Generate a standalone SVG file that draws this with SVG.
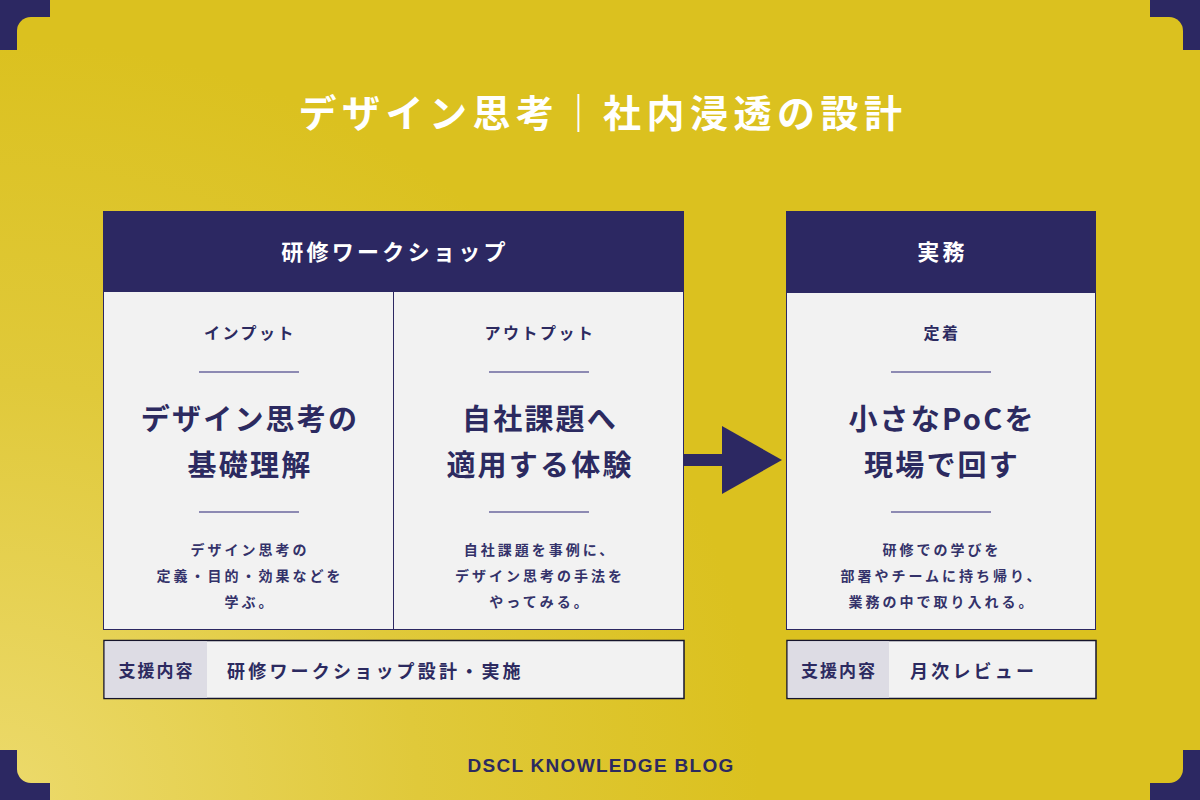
<svg xmlns="http://www.w3.org/2000/svg" width="1200" height="800" viewBox="0 0 1200 800">
<defs>
<radialGradient id="bgGrad" gradientUnits="userSpaceOnUse" cx="0" cy="800" r="760">
<stop offset="0" stop-color="#ecda6c"/>
<stop offset="0.55" stop-color="#e0c93a"/>
<stop offset="1" stop-color="#dbc11f"/>
</radialGradient>
<style>
.jp{font-family:"Noto Sans CJK JP","Noto Sans",sans-serif;}
.navyfill{fill:#2c2862;}
.card{fill:#f2f2f2;stroke:#2c2862;stroke-width:1;}
.rule{stroke:#8d8ab3;stroke-width:2;}
.hdr{font-size:22px;font-weight:700;fill:#ffffff;letter-spacing:3.3px;text-anchor:middle;}
.lab{font-size:16px;font-weight:700;fill:#2c2a60;letter-spacing:2.5px;text-anchor:middle;}
.big{font-size:29px;font-weight:700;fill:#2c2a60;letter-spacing:2.2px;text-anchor:middle;}
.desc{font-size:14px;font-weight:700;fill:#34326a;letter-spacing:3px;text-anchor:middle;}
.band{fill:#f2f2f2;stroke:#16152c;stroke-width:1.5;}
.bandlab{fill:#dddce4;}
.sl{font-size:17px;font-weight:700;fill:#2c2a60;letter-spacing:2px;text-anchor:middle;}
.sv{font-size:18px;font-weight:700;fill:#2c2a60;letter-spacing:3.2px;}
</style>
</defs>

<g id="background">
<rect x="0" y="0" width="1200" height="800" fill="url(#bgGrad)"/>
<rect class="navyfill" x="0" y="0" width="50" height="50"/>
<rect class="navyfill" x="1150" y="0" width="50" height="50"/>
<rect class="navyfill" x="0" y="750" width="50" height="50"/>
<rect class="navyfill" x="1150" y="750" width="50" height="50"/>
<rect x="17" y="17" width="1166" height="766" rx="14" ry="14" fill="url(#bgGrad)"/>
</g>

<g id="title">
<text class="jp" x="603" y="127" font-size="38" font-weight="700" fill="#ffffff" letter-spacing="5.5" text-anchor="middle">デザイン思考｜社内浸透の設計</text>
</g>

<g id="node-workshop">
<rect class="card" x="103.5" y="211.5" width="580" height="418"/>
<rect class="navyfill" x="103" y="211" width="581" height="81"/>
<text class="jp hdr" x="395" y="260">研修ワークショップ</text>
<line x1="393.5" y1="292" x2="393.5" y2="630" stroke="#2c2862" stroke-width="1"/>
<g id="node-input">
<text class="jp lab" x="250" y="339">インプット</text>
<line class="rule" x1="199" y1="372" x2="299" y2="372"/>
<text class="jp big" x="250" y="430">デザイン思考の</text>
<text class="jp big" x="250" y="476">基礎理解</text>
<line class="rule" x1="199" y1="512" x2="299" y2="512"/>
<text class="jp desc" x="250" y="555">デザイン思考の</text>
<text class="jp desc" x="250" y="581">定義・目的・効果などを</text>
<text class="jp desc" x="250" y="607">学ぶ。</text>
</g>
<g id="node-output">
<text class="jp lab" x="540" y="339">アウトプット</text>
<line class="rule" x1="489" y1="372" x2="589" y2="372"/>
<text class="jp big" x="540" y="430">自社課題へ</text>
<text class="jp big" x="540" y="476">適用する体験</text>
<line class="rule" x1="489" y1="512" x2="589" y2="512"/>
<text class="jp desc" x="540" y="555">自社課題を事例に、</text>
<text class="jp desc" x="540" y="581">デザイン思考の手法を</text>
<text class="jp desc" x="540" y="607">やってみる。</text>
</g>
</g>

<g id="node-support-workshop">
<rect class="band" x="104" y="640.5" width="580" height="58"/>
<rect class="bandlab" x="104.75" y="641.25" width="102.25" height="56.5"/>
<text class="jp sl" x="156.5" y="677">支援内容</text>
<text class="jp sv" x="227" y="678">研修ワークショップ設計・実施</text>
</g>

<g id="node-jitsumu">
<rect class="card" x="786.5" y="211.5" width="309" height="418"/>
<rect class="navyfill" x="786" y="211" width="310" height="82"/>
<text class="jp hdr" x="942.5" y="260">実務</text>
<text class="jp lab" x="942" y="339">定着</text>
<line class="rule" x1="891" y1="372" x2="991" y2="372"/>
<text class="jp big" x="942" y="430">小さなPoCを</text>
<text class="jp big" x="942" y="476">現場で回す</text>
<line class="rule" x1="891" y1="512" x2="991" y2="512"/>
<text class="jp desc" x="942" y="555">研修での学びを</text>
<text class="jp desc" x="942" y="581">部署やチームに持ち帰り、</text>
<text class="jp desc" x="942" y="607">業務の中で取り入れる。</text>
</g>

<g id="node-support-jitsumu">
<rect class="band" x="787" y="640.5" width="309" height="58"/>
<rect class="bandlab" x="787.75" y="641.25" width="101.25" height="56.5"/>
<text class="jp sl" x="839" y="677">支援内容</text>
<text class="jp sv" x="910" y="678">月次レビュー</text>
</g>

<g id="connectors">
<rect class="navyfill" x="684" y="454" width="39" height="12"/>
<polygon class="navyfill" points="722,426 782,460 722,494"/>
</g>

<g id="footer">
<text x="601" y="772" font-family="'Liberation Sans',Arial,sans-serif" font-size="19" font-weight="700" fill="#2c2a60" letter-spacing="1.3" text-anchor="middle">DSCL KNOWLEDGE BLOG</text>
</g>
</svg>
